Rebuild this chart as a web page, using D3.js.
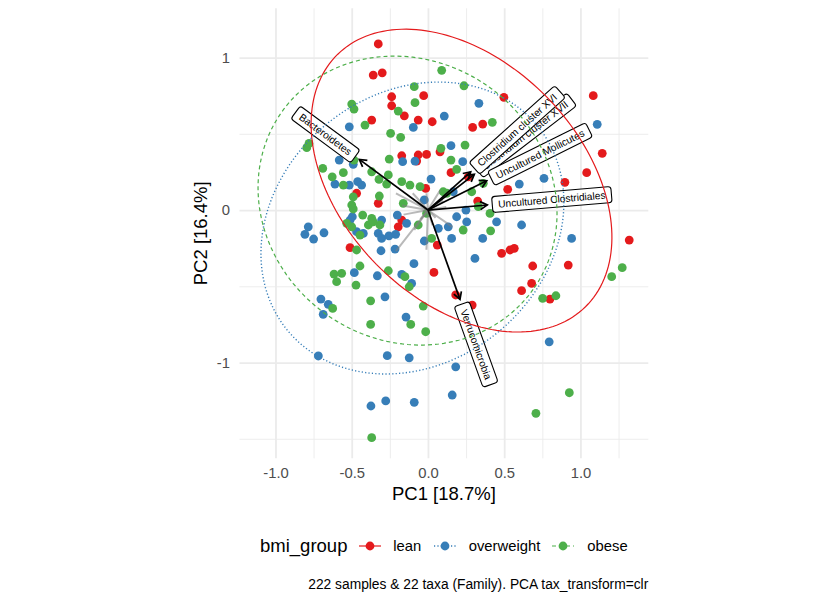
<!DOCTYPE html>
<html>
<head>
<meta charset="utf-8">
<script src="https://cdn.jsdelivr.net/npm/d3@7"></script>
<style>
  body { margin: 0; background: #fff; }
  text { font-family: "Liberation Sans", Arial, Helvetica, sans-serif; }
</style>
</head>
<body>
<svg id="chart" width="840" height="600"></svg>
<script>
// ---- data ----
const groups = ['lean', 'overweight', 'obese'];
const groupColors = ['#E41A1C', '#377EB8', '#4DAF4A'];
const groupDash = [null, '1.2,2.2', '4,3'];

// PC1, PC2 per sample
const leanPoints = [
  [-0.326, 1.089], [-0.359, 0.885], [-0.300, 0.900], [-0.238, 0.743], [-0.028, 0.750],
  [-0.238, 0.684], [-0.155, 0.618], [-0.064, 0.590], [0.028, 0.579], [-0.369, 0.590],
  [-0.172, 0.356], [-0.064, 0.361], [-0.009, 0.365], [-0.074, 0.321], [0.079, 0.382],
  [-0.015, 0.142], [-0.468, 0.110], [-0.326, 0.044], [-0.172, -0.066], [-0.195, -0.110],
  [-0.511, -0.247], [0.061, -0.230], [0.039, -0.409], [0.483, -0.284], [0.538, -0.262],
  [0.566, -0.251], [0.687, -0.367], [0.920, -0.361], [1.320, -0.197], [0.680, -0.481],
  [0.614, -0.529], [0.800, -0.584], [0.182, -0.557], [0.290, -0.623], [0.498, 0.739],
  [1.084, 0.750], [1.143, 0.372], [0.293, 0.542], [0.359, 0.564], [0.151, 0.245],
  [0.264, 0.218], [0.898, 0.182], [0.523, 0.136], [0.326, 0.059], [1.041, 0.245]
];
const overweightPoints = [
  [0.107, 0.616], [-0.096, 0.542], [-0.516, 0.546], [-0.582, 0.328], [-0.490, 0.300],
  [-0.166, 0.317], [-0.085, 0.321], [-0.610, 0.170], [-0.516, 0.164], [-0.461, 0.186],
  [-0.435, 0.164], [0.020, 0.203], [-0.024, 0.066], [-0.496, -0.044], [-0.511, -0.066],
  [-0.304, -0.066], [-0.201, -0.033], [-0.140, -0.087], [-0.785, -0.110], [-0.807, -0.159],
  [-0.750, -0.190], [-0.682, -0.149], [-0.468, -0.142], [-0.424, -0.153], [-0.326, -0.153],
  [-0.304, -0.186], [-0.256, -0.169], [-0.212, -0.159], [-0.308, -0.267], [-0.216, -0.256],
  [-0.024, -0.203], [-0.092, -0.352], [-0.483, -0.411], [-0.332, -0.431], [-0.172, -0.422],
  [-0.107, -0.481], [-0.702, -0.584], [-0.654, -0.618], [-0.687, -0.684], [-0.282, -0.569],
  [-0.144, -0.702], [-0.719, -0.957], [-0.267, -0.955], [-0.123, -0.969], [-0.374, -1.285],
  [-0.277, -1.252], [-0.090, -1.261], [0.068, -0.120], [0.133, -0.110], [0.155, -0.186],
  [0.359, -0.186], [0.614, -0.098], [0.308, -0.317], [0.942, -0.186], [0.795, -0.864],
  [0.182, -1.028], [0.159, -1.213], [0.334, 0.700], [1.110, 0.562], [0.151, 0.422],
  [0.228, 0.317], [0.761, 0.208], [0.599, 0.170], [0.249, 0.000], [0.188, -0.044],
  [0.254, -0.077], [0.450, -0.077], [0.166, 0.120]
];
const obesePoints = [
  [0.090, 0.916], [-0.090, 0.809], [-0.085, 0.704], [-0.195, 0.649], [-0.500, 0.695],
  [-0.485, 0.662], [-0.413, 0.557], [-0.245, 0.503], [-0.179, 0.477], [-0.795, 0.409],
  [-0.780, 0.437], [-0.485, 0.328], [-0.254, 0.334], [-0.690, 0.273], [-0.555, 0.245],
  [-0.628, 0.218], [-0.555, 0.164], [-0.369, 0.251], [-0.321, 0.201], [-0.271, 0.170],
  [-0.260, 0.230], [-0.172, 0.186], [-0.118, 0.164], [-0.052, 0.153], [-0.319, 0.092],
  [-0.490, 0.087], [-0.500, 0.033], [-0.490, 0.007], [-0.428, -0.033], [-0.533, -0.087],
  [-0.500, -0.110], [-0.369, -0.054], [-0.391, -0.098], [-0.315, -0.098], [-0.064, -0.098],
  [-0.446, -0.164], [-0.468, -0.262], [0.024, -0.186], [-0.446, -0.367], [-0.616, -0.420],
  [-0.566, -0.415], [-0.599, -0.470], [-0.472, -0.492], [-0.260, -0.398], [-0.151, -0.437],
  [-0.123, -0.503], [-0.625, -0.645], [-0.376, -0.595], [-0.031, -0.630], [-0.113, -0.750],
  [-0.376, -0.750], [-0.015, -0.798], [-0.369, -1.493], [0.231, -0.131], [0.411, -0.136],
  [1.274, -0.378], [1.205, -0.437], [0.752, -0.579], [0.839, -0.562], [0.927, -1.198],
  [0.708, -1.333], [0.236, 0.815], [0.422, 0.575], [0.243, 0.426], [0.151, 0.328],
  [0.188, 0.267], [0.287, 0.120], [0.123, 0.110], [0.330, 0.022], [0.407, -0.022],
  [0.085, 0.405], [-0.162, 0.044], [0.100, 0.120], [-0.009, -0.022], [-0.359, -0.077],
  [0.363, 0.175]
];

// labelled taxa loadings (drawing order matters for overlapping labels)
const loadingNames = ['Bacteroidetes', 'Verrucomicrobia', 'Uncultured Clostridiales',
  'Clostridium cluster XVII', 'Uncultured Mollicutes', 'Clostridium cluster XVI'];
const loadingX = [-0.450, 0.210, 0.389, 0.304, 0.385, 0.280];
const loadingY = [0.332, -0.586, 0.033, 0.234, 0.192, 0.251];

// unlabelled taxa loadings
const otherLoadings = [
  [-0.21, 0.11], [-0.10, 0.11], [-0.17, 0.03], [-0.16, -0.03], [-0.21, -0.27],
  [-0.09, -0.13], [-0.01, -0.26], [0.03, -0.10], [0.16, -0.11], [0.12, 0.02],
  [0.08, 0.13], [-0.01, 0.11], [-0.07, 0.05], [0.05, -0.05], [-0.05, -0.06], [0.10, 0.06]
];

// 95% ellipses per group: centre, semi axes, rotation (degrees, data space)
const ellipseCentres = [[0.220, 0.193], [-0.102, -0.118], [-0.134, 0.062]];
const ellipseAxes = [[1.160, 0.783], [1.059, 0.884], [1.009, 0.917]];
const ellipseAngles = [-45.5, 39, -34.5];

const xMajor = [-1, -0.5, 0, 0.5, 1];
const xMinor = [-0.75, -0.25, 0.25, 0.75, 1.25];
const yMajor = [-1, 0, 1];
const yMinor = [-1.5, -0.5, 0.5];

const xTitle = 'PC1 [18.7%]';
const yTitle = 'PC2 [16.4%]';
const caption = '222 samples & 22 taxa (Family). PCA tax_transform=clr';

// ---- drawing ----
const svg = d3.select('#chart');
const panelLeft = 239.5, panelRight = 648.3, panelTop = 8.3, panelBottom = 458.3;
const panelW = panelRight - panelLeft, panelH = panelBottom - panelTop;

const x = d3.scaleLinear().domain([-1.236, 1.445]).range([panelLeft, panelRight]);
const y = d3.scaleLinear().domain([-1.628, 1.323]).range([panelBottom, panelTop]);

function styleAxis(g) {
  g.select('.domain').remove();
  g.attr('font-family', null).attr('font-size', null);
}

//minor grid
svg.append('g')
  .attr('transform', 'translate(0,' + panelBottom + ')')
  .call(d3.axisBottom(x).tickValues(xMinor).tickSize(-panelH).tickFormat(''))
  .call(styleAxis)
  .selectAll('line').attr('stroke', '#EBEBEB').attr('stroke-width', 0.9);
svg.append('g')
  .attr('transform', 'translate(' + panelLeft + ',0)')
  .call(d3.axisLeft(y).tickValues(yMinor).tickSize(-panelW).tickFormat(''))
  .call(styleAxis)
  .selectAll('line').attr('stroke', '#EBEBEB').attr('stroke-width', 0.9);

//major grid + tick labels
const xAxis = svg.append('g')
  .attr('transform', 'translate(0,' + panelBottom + ')')
  .call(d3.axisBottom(x).tickValues(xMajor).tickSize(-panelH).tickPadding(8.8)
    .tickFormat(d => d3.format('.1f')(d).replace('−', '-')))
  .call(styleAxis);
const yAxis = svg.append('g')
  .attr('transform', 'translate(' + panelLeft + ',0)')
  .call(d3.axisLeft(y).tickValues(yMajor).tickSize(-panelW).tickPadding(9.5)
    .tickFormat(d => String(d)))
  .call(styleAxis);
[xAxis, yAxis].forEach(g => {
  g.selectAll('line').attr('stroke', '#EBEBEB').attr('stroke-width', 1.8);
  g.selectAll('text').attr('fill', '#4D4D4D').attr('font-size', '14.8px');
});

//axis titles
svg.append('text').attr('x', (panelLeft + panelRight) / 2).attr('y', 493.3).attr('dy', '0.35em')
  .attr('text-anchor', 'middle').attr('font-size', '18.5px').text(xTitle);
svg.append('text').attr('transform', 'translate(201,' + (panelTop + panelBottom) / 2 + ') rotate(-90)')
  .attr('dy', '0.35em').attr('text-anchor', 'middle').attr('font-size', '18.5px').text(yTitle);

//points
const allPoints = [leanPoints, overweightPoints, obesePoints];
allPoints.forEach((pts, i) => {
  svg.append('g').selectAll('circle')
    .data(pts)
    .enter().append('circle')
    .attr('cx', d => x(d[0]))
    .attr('cy', d => y(d[1]))
    .attr('r', 4.4)
    .attr('fill', groupColors[i]);
});

//unlabelled loadings (grey lines)
svg.append('g').selectAll('line')
  .data(otherLoadings)
  .enter().append('line')
  .attr('x1', x(0)).attr('y1', y(0))
  .attr('x2', d => x(d[0])).attr('y2', d => y(d[1]))
  .attr('stroke', '#7F7F7F').attr('stroke-opacity', 0.55).attr('stroke-width', 2);

//arrow head
svg.append('defs').append('marker')
  .attr('id', 'head').attr('markerUnits', 'userSpaceOnUse')
  .attr('viewBox', '-9 -6 12 12').attr('markerWidth', 12).attr('markerHeight', 12)
  .attr('refX', 0).attr('refY', 0).attr('orient', 'auto')
  .append('path').attr('d', 'M-7,-4L0,0L-7,4')
  .attr('fill', 'none').attr('stroke', 'black').attr('stroke-width', 1.7);

//labelled loadings
svg.append('g').selectAll('line')
  .data(loadingNames)
  .enter().append('line')
  .attr('x1', x(0)).attr('y1', y(0))
  .attr('x2', (d, i) => x(loadingX[i])).attr('y2', (d, i) => y(loadingY[i]))
  .attr('stroke', 'black').attr('stroke-width', 1.7)
  .attr('marker-end', 'url(#head)');

//labels rotated along the arrow
loadingNames.forEach((name, i) => {
  const px = x(loadingX[i]), py = y(loadingY[i]);
  const dx = px - x(0), dy = py - y(0);
  const len = Math.hypot(dx, dy);
  const ax = px + dx / len * 11, ay = py + dy / len * 11;
  const ang = -Math.atan(loadingY[i] / loadingX[i]) * 180 / Math.PI;
  const onRight = loadingX[i] > 0;
  const g = svg.append('g').attr('transform', 'translate(' + ax + ',' + ay + ') rotate(' + ang + ')');
  const box = g.append('rect');
  const t = g.append('text')
    .attr('text-anchor', onRight ? 'start' : 'end')
    .attr('dy', '0.35em').attr('font-size', '10.2px').text(name);
  const w = t.node().getComputedTextLength();
  box.attr('x', onRight ? -6 : -w - 6).attr('y', -8)
    .attr('width', w + 12).attr('height', 16).attr('rx', 3)
    .attr('fill', 'white').attr('stroke', 'black').attr('stroke-width', 1.1);
});

//ellipses
const ellipseLine = d3.line().x(d => x(d[0])).y(d => y(d[1])).curve(d3.curveLinearClosed);
ellipseCentres.forEach((c, i) => {
  const phi = ellipseAngles[i] * Math.PI / 180;
  const [a, b] = ellipseAxes[i];
  const pts = d3.range(0, 2 * Math.PI, Math.PI / 90).map(t => [
    c[0] + a * Math.cos(t) * Math.cos(phi) - b * Math.sin(t) * Math.sin(phi),
    c[1] + a * Math.cos(t) * Math.sin(phi) + b * Math.sin(t) * Math.cos(phi)
  ]);
  svg.append('path').attr('d', ellipseLine(pts))
    .attr('fill', 'none').attr('stroke', groupColors[i])
    .attr('stroke-width', i === 1 ? 1.4 : 1.2)
    .attr('stroke-dasharray', groupDash[i]);
});

//legend
const legendY = 546;
svg.append('text').attr('x', 260).attr('y', legendY).attr('dy', '0.35em')
  .attr('font-size', '18.5px').text('bmi_group');
const keyX = [370, 445, 563];
const labelX = [393.3, 468.7, 587.3];
groups.forEach((grp, i) => {
  svg.append('line').attr('x1', keyX[i] - 11).attr('x2', keyX[i] + 11)
    .attr('y1', legendY).attr('y2', legendY)
    .attr('stroke', groupColors[i]).attr('stroke-width', i === 1 ? 1.4 : 1.2)
    .attr('stroke-dasharray', groupDash[i]);
  svg.append('circle').attr('cx', keyX[i]).attr('cy', legendY).attr('r', 4.4).attr('fill', groupColors[i]);
  svg.append('text').attr('x', labelX[i]).attr('y', legendY).attr('dy', '0.35em')
    .attr('font-size', '14.8px').text(grp);
});

//caption
svg.append('text').attr('x', panelRight).attr('y', 584).attr('dy', '0.35em')
  .attr('text-anchor', 'end').attr('font-size', '13.8px').text(caption);
</script>
</body>
</html>
